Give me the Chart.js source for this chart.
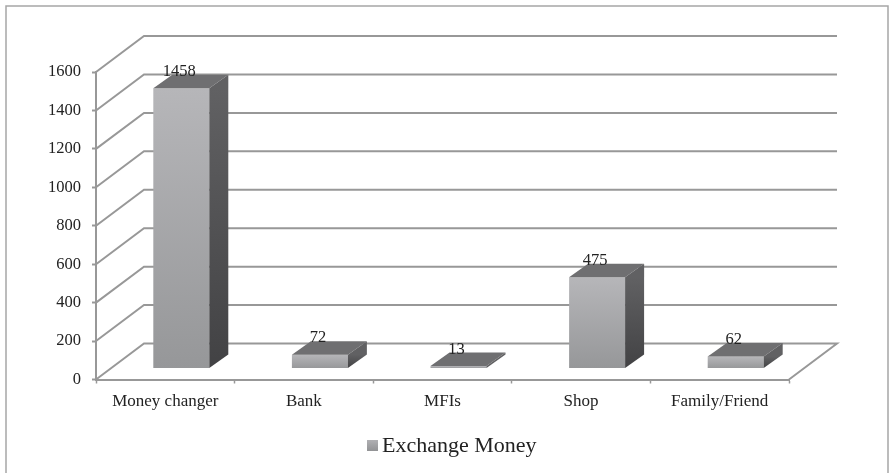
<!DOCTYPE html>
<html><head><meta charset="utf-8">
<style>html,body{margin:0;padding:0;background:#fff}#w{width:889px;height:473px}</style>
<script src="https://cdn.jsdelivr.net/npm/chart.js@4"></script>
</head><body><div id="w"><canvas id="c" width="889" height="473"></canvas></div>
<script>
const categories = ["Money changer","Bank","MFIs","Shop","Family/Friend"];
const exchangeMoney = [1458,72,13,475,62];
const yTicks = [0,200,400,600,800,1000,1200,1400,1600];
const seriesName = "Exchange Money";

const FONT = '"Liberation Serif", serif';
const TEXT = '#222222', LINE = '#989898';
const WALL = {dx:48, dy:-36};
const BAR  = {dx:16, dy:-11, depthX:19, depthY:-13.5};

function frontGradient(c, y0, y1){
  const g = c.createLinearGradient(0,y0,0,y1);
  g.addColorStop(0,'#b6b6b9'); g.addColorStop(1,'#969799');
  return g;
}
function sideGradient(c, y0, y1){
  const g = c.createLinearGradient(0,y0,0,y1);
  g.addColorStop(0,'#616163'); g.addColorStop(1,'#424244');
  return g;
}
function poly(c, pts, fill){
  c.beginPath(); pts.forEach((p,i)=> i? c.lineTo(p[0],p[1]) : c.moveTo(p[0],p[1]));
  c.closePath(); c.fillStyle = fill; c.fill();
}
const threeD = {
  id:'threeD',
  beforeDraw(chart){
    const c = chart.ctx;
    c.save(); c.strokeStyle='#a6a6a6'; c.lineWidth=1.5;
    c.strokeRect(6,6,882,480); c.restore();
  },
  beforeDatasetsDraw(chart){
    const c = chart.ctx, y = chart.scales.y, a = chart.chartArea;
    c.save(); c.strokeStyle = LINE; c.lineWidth = 2;
    yTicks.forEach(v=>{
      const p = y.getPixelForValue(v);
      c.beginPath(); c.moveTo(a.left,p); c.lineTo(a.left+WALL.dx,p+WALL.dy);
      c.lineTo(a.right+WALL.dx,p+WALL.dy);
      if(v===0) c.lineTo(a.right,p);
      c.stroke();
    });
    c.restore();
  },
  beforeDatasetDraw(chart){
    chart.ctx.save(); chart.ctx.translate(BAR.dx,BAR.dy);
  },
  afterDatasetDraw(chart,args){
    const c = chart.ctx;
    args.meta.data.forEach(b=>{
      const l=b.x-b.width/2, r=b.x+b.width/2, t=b.y, bt=b.base;
      const dx=BAR.depthX, dy=BAR.depthY;
      poly(c,[[l,t],[l+dx,t+dy],[r+dx,t+dy],[r,t]],'#6f6f71');
      poly(c,[[r,t],[r+dx,t+dy],[r+dx,bt+dy],[r,bt]],sideGradient(c,t,bt));
    });
    c.fillStyle=TEXT; c.font='16.5px '+FONT; c.textAlign='center'; c.textBaseline='alphabetic';
    args.meta.data.forEach((b,i)=>{ c.fillText(String(exchangeMoney[i]), b.x-2, b.y-12.5); });
    c.restore();
  },
  afterDraw(chart){
    const c = chart.ctx;
    c.save();
    const g = c.createLinearGradient(0,440,0,451);
    g.addColorStop(0,'#b0b0b3'); g.addColorStop(1,'#929395');
    c.fillStyle=g; c.fillRect(367,440,11,11);
    c.fillStyle=TEXT; c.font='22px '+FONT; c.textAlign='left'; c.textBaseline='alphabetic';
    c.fillText(seriesName,382,452);
    c.restore();
  }
};
new Chart(document.getElementById('c'),{
  type:'bar',
  data:{labels:categories,datasets:[{
    label:seriesName,data:exchangeMoney,clip:false,
    categoryPercentage:1,barPercentage:0.404,borderWidth:0,
    backgroundColor(ctx){
      const s=ctx.chart.scales.y, c=ctx.chart.ctx;
      if(!s||ctx.parsed===undefined||ctx.type!=='data') return '#a0a0a2';
      const y0=s.getPixelForValue(ctx.parsed.y), y1=s.getPixelForValue(0);
      if(!isFinite(y0)||!isFinite(y1)) return '#a0a0a2';
      return frontGradient(c,y0,y1);
    }
  }]},
  options:{
    responsive:false,animation:false,
    layout:{padding:{left:0,right:100,top:72,bottom:0}},
    plugins:{tooltip:{enabled:false},legend:{display:false}},
    scales:{
      x:{offset:true,
        afterFit(s){s.height=93.5;},
        grid:{offset:true,drawOnChartArea:false,color:LINE,tickLength:4,tickWidth:1.5},
        border:{color:LINE,width:2},
        ticks:{color:TEXT,font:{family:FONT,size:17},padding:8,maxRotation:0,autoSkip:false}},
      y:{min:0,max:1600,
        afterBuildTicks(s){s.ticks=yTicks.map(v=>({value:v}));},
        afterFit(s){s.width=96;},
        grid:{drawOnChartArea:false,color:LINE,tickLength:4,tickWidth:2},
        border:{color:LINE,width:2},
        ticks:{color:TEXT,font:{family:FONT,size:16.5},padding:11,callback:v=>String(v)}}
    }
  },
  plugins:[threeD]
});
</script></body></html>
